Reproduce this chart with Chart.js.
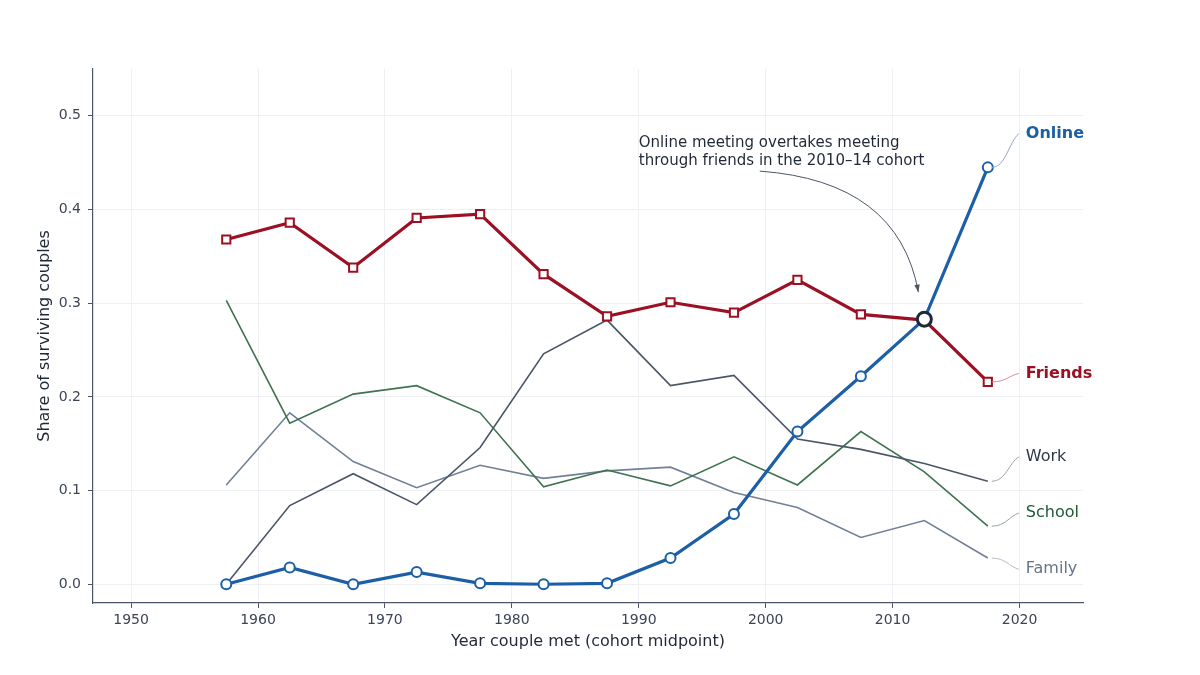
<!DOCTYPE html>
<html>
<head>
<meta charset="utf-8">
<script src="https://cdn.jsdelivr.net/npm/chart.js@4/dist/chart.umd.min.js"></script>
<style>
  html, body { margin: 0; padding: 0; background: #ffffff; }
  #wrap { width: 1200px; height: 675px; }
</style>
</head>
<body>
<div id="wrap"><canvas id="meetChart" width="1200" height="675"></canvas></div>
<script>
// cohort midpoints and shares
var years = [1957.5, 1962.5, 1967.5, 1972.5, 1977.5, 1982.5, 1987.5, 1992.5, 1997.5, 2002.5, 2007.5, 2012.5, 2017.5];
var online = [0.000, 0.018, 0.000, 0.013, 0.001, 0.000, 0.001, 0.028, 0.075, 0.163, 0.222, 0.283, 0.445];
var friends = [0.368, 0.386, 0.338, 0.391, 0.395, 0.331, 0.286, 0.301, 0.290, 0.325, 0.288, 0.282, 0.216];
var work = [0.000, 0.084, 0.118, 0.085, 0.146, 0.246, 0.282, 0.212, 0.223, 0.155, 0.144, 0.129, 0.110];
var school = [0.303, 0.172, 0.203, 0.212, 0.183, 0.104, 0.122, 0.105, 0.136, 0.106, 0.163, 0.120, 0.062];
var family = [0.106, 0.183, 0.131, 0.103, 0.127, 0.113, 0.121, 0.125, 0.098, 0.082, 0.050, 0.068, 0.028];
var xTicks = [1950, 1960, 1970, 1980, 1990, 2000, 2010, 2020];
var yTicks = [0.0, 0.1, 0.2, 0.3, 0.4, 0.5];
var crossIndex = 11; // 2010-14 cohort

var FONT = "'DejaVu Sans', 'Noto Sans', sans-serif";

function pts(vals) {
    return vals.map(function (v, i) { return { x: years[i], y: v }; });
}

// end-of-line labels (label y in data units)
var endLabels = [
    { ds: 1, text: 'Online', y: 0.481, color: '#1c5fa6', bold: true, link: '#8fa6c2' },
    { ds: 2, text: 'Friends', y: 0.225, color: '#9b1023', bold: true, link: '#d88a95' },
    { ds: 3, text: 'Work', y: 0.136, color: '#2d3748', bold: false, link: '#9aa3b0' },
    { ds: 4, text: 'School', y: 0.076, color: '#1e5a34', bold: false, link: '#8fa899' },
    { ds: 5, text: 'Family', y: 0.016, color: '#66758c', bold: false, link: '#b3bcc8' }
];

var labelPlugin = {
    id: 'labels',
    afterDatasetsDraw: function (chart) {
        var ctx = chart.ctx;
        var sx = chart.scales.x, sy = chart.scales.y;
        ctx.save();
        endLabels.forEach(function (l) {
            var meta = chart.getDatasetMeta(l.ds);
            var p = meta.data[meta.data.length - 1];
            var x0 = p.x + 4, y0 = p.y;
            var x1 = p.x + 31, y1 = sy.getPixelForValue(l.y);
            ctx.strokeStyle = l.link;
            ctx.lineWidth = 1;
            ctx.beginPath();
            ctx.moveTo(x0, y0);
            ctx.bezierCurveTo(x0 + 14, y0, x1 - 10, y1 + (y0 - y1) * 0.25, x1, y1);
            ctx.stroke();
            ctx.fillStyle = l.color;
            ctx.font = (l.bold ? 'bold ' : '') + '16px ' + FONT;
            ctx.textAlign = 'left';
            ctx.textBaseline = 'middle';
            ctx.fillText(l.text, x1 + 7, y1);
        });

        // annotation
        var tx = sx.getPixelForValue(1990);
        ctx.fillStyle = '#1f2937';
        ctx.font = '15px ' + FONT;
        ctx.textAlign = 'left';
        ctx.textBaseline = 'middle';
        ctx.fillText('Online meeting overtakes meeting', tx, sy.getPixelForValue(0.471));
        ctx.fillText('through friends in the 2010\u201314 cohort', tx, sy.getPixelForValue(0.452));

        var cp = chart.getDatasetMeta(0).data[0];
        var ax = tx + 121, ay = sy.getPixelForValue(0.441);
        var bx = cp.x - 6, by = cp.y - 27;
        ctx.strokeStyle = '#4a5568';
        ctx.lineWidth = 1;
        ctx.beginPath();
        ctx.moveTo(ax, ay);
        ctx.quadraticCurveTo(bx - 20, ay + 10, bx, by);
        ctx.stroke();
        // arrow head
        var ang = Math.atan2(by - (ay + 10), 20);
        ctx.fillStyle = '#4a5568';
        ctx.beginPath();
        ctx.moveTo(bx, by);
        ctx.lineTo(bx - 8 * Math.cos(ang - 0.35), by - 8 * Math.sin(ang - 0.35));
        ctx.lineTo(bx - 8 * Math.cos(ang + 0.35), by - 8 * Math.sin(ang + 0.35));
        ctx.closePath();
        ctx.fill();
        ctx.restore();
    }
};

var ctx = document.getElementById('meetChart').getContext('2d');
var meetChart = new Chart(ctx, {
    type: 'line',
    data: {
        datasets: [{
            label: 'Crossover',
            data: [{ x: years[crossIndex], y: online[crossIndex] }],
            showLine: false,
            pointRadius: 7,
            pointBorderWidth: 3,
            pointBorderColor: '#1f2937',
            pointBackgroundColor: '#ffffff'
        }, {
            label: 'Online',
            data: pts(online),
            borderColor: '#1c5fa6',
            borderWidth: 3.2,
            pointStyle: 'circle',
            pointRadius: 5,
            pointBorderWidth: 2,
            pointBorderColor: '#1c5fa6',
            pointBackgroundColor: '#ffffff'
        }, {
            label: 'Friends',
            data: pts(friends),
            borderColor: '#9b1023',
            borderWidth: 3.2,
            pointStyle: 'rect',
            pointRadius: 5.8,
            pointBorderWidth: 2,
            pointBorderColor: '#9b1023',
            pointBackgroundColor: '#ffffff'
        }, {
            label: 'Work',
            data: pts(work),
            borderColor: '#4a5568',
            borderWidth: 1.6,
            pointRadius: 0
        }, {
            label: 'School',
            data: pts(school),
            borderColor: '#3f7350',
            borderWidth: 1.6,
            pointRadius: 0
        }, {
            label: 'Family',
            data: pts(family),
            borderColor: '#718096',
            borderWidth: 1.6,
            pointRadius: 0
        }]
    },
    options: {
        responsive: false,
        animation: false,
        layout: { padding: { left: 0, right: 117, top: 69, bottom: 0 } },
        plugins: {
            legend: { display: false },
            tooltip: { enabled: false }
        },
        scales: {
            x: {
                type: 'linear',
                min: 1947,
                max: 2025,
                afterBuildTicks: function (s) { s.ticks = xTicks.map(function (v) { return { value: v }; }); },
                afterFit: function (s) { s.height = 72; },
                grid: { color: '#eef0f3', tickColor: '#4a5568', tickLength: 5 },
                border: { color: '#4a5568', width: 1.2 },
                ticks: {
                    color: '#3b4556',
                    padding: 4,
                    font: { family: FONT, size: 14 },
                    callback: function (v) { return String(v); }
                },
                title: {
                    display: true,
                    text: 'Year couple met (cohort midpoint)',
                    color: '#1f2937',
                    font: { family: FONT, size: 16 },
                    padding: { top: 0, bottom: 24 }
                }
            },
            y: {
                min: -0.02,
                max: 0.55,
                afterBuildTicks: function (s) { s.ticks = yTicks.map(function (v) { return { value: v }; }); },
                afterFit: function (s) { s.width = 93; },
                grid: { color: '#eef0f3', tickColor: '#4a5568', tickLength: 5 },
                border: { color: '#4a5568', width: 1.2 },
                ticks: {
                    color: '#3b4556',
                    padding: 7,
                    font: { family: FONT, size: 14 },
                    callback: function (v) { return v.toFixed(1); }
                },
                title: {
                    display: true,
                    text: 'Share of surviving couples',
                    color: '#1f2937',
                    font: { family: FONT, size: 16 },
                    padding: { top: 35, bottom: 0 }
                }
            }
        }
    },
    plugins: [labelPlugin]
});
</script>
</body>
</html>
